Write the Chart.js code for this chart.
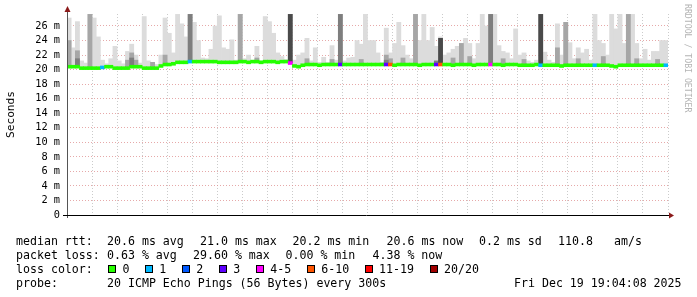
<!DOCTYPE html>
<html>
<head>
<meta charset="utf-8">
<script src="https://cdn.jsdelivr.net/npm/chart.js@4.4.1/dist/chart.umd.min.js"></script>
<style>
    html, body { margin: 0; padding: 0; background: #fff; }
    #wrap { position: relative; width: 697px; height: 297px; overflow: hidden; }
    #chart { position: absolute; left: 0; top: 0; }
    .txt { position: absolute; font-family: 'DejaVu Sans Mono', monospace; font-size: 11.6px; line-height: 14px; color: #000; white-space: pre; }
    #lossRow { position: absolute; left: 16px; top: 262px; height: 14px; display: flex; align-items: center; }
    #lossRow .box { width: 6px; height: 6px; border: 1px solid #000; margin-right: 6.4px; }
    #lossRow .lbl { margin-right: 15.6px; }
    #credit { position: absolute; left: 683px; top: 4px; writing-mode: vertical-rl; font-family: 'DejaVu Sans Mono', monospace; font-size: 8.2px; line-height: 9px; color: #b4b4b4; }
</style>
</head>
<body>
<div id="wrap">
    <canvas id="chart" width="697" height="297"></canvas>

    <div class="txt" style="left:16px;top:234px">median rtt:</div>
    <div class="txt" style="left:107px;top:234px">20.6 ms avg</div>
    <div class="txt" style="left:200px;top:234px">21.0 ms max</div>
    <div class="txt" style="left:292.5px;top:234px">20.2 ms min</div>
    <div class="txt" style="left:386.5px;top:234px">20.6 ms now</div>
    <div class="txt" style="left:479px;top:234px">0.2 ms sd</div>
    <div class="txt" style="left:558px;top:234px">110.8</div>
    <div class="txt" style="left:614px;top:234px">am/s</div>

    <div class="txt" style="left:16px;top:248px">packet loss:</div>
    <div class="txt" style="left:107px;top:248px">0.63 % avg</div>
    <div class="txt" style="left:193px;top:248px">29.60 % max</div>
    <div class="txt" style="left:285.5px;top:248px">0.00 % min</div>
    <div class="txt" style="left:372.5px;top:248px">4.38 % now</div>

    <div class="txt" style="left:16px;top:262px">loss color:</div>
    <div id="lossRow" style="left:108px"></div>

    <div class="txt" style="left:16px;top:276px">probe:</div>
    <div class="txt" style="left:107px;top:276px">20 ICMP Echo Pings (56 Bytes) every 300s</div>
    <div class="txt" style="left:514px;top:276px">Fri Dec 19 19:04:08 2025</div>

    <div id="credit">RRDTOOL / TOBI OETIKER</div>
</div>

<script>
// time window: hours counted from Thu 00:00, one bin = 10 minutes
const startHour = 19.08;
const endHour = 43.08;
const binHours = 1 / 6;

// median rtt per bin (ms)
const medianRtt = [
    20.4, 20.4, 20.4, 20.2, 20.2, 20.2, 20.2, 20.2, 20.3, 20.4,
    20.4, 20.2, 20.2, 20.2, 20.2, 20.4, 20.4, 20.4, 20.2, 20.2,
    20.2, 20.2, 20.5, 20.7, 20.7, 20.8, 21.0, 21.0, 21.0, 21.1,
    21.1, 21.1, 21.1, 21.1, 21.1, 21.1, 21.0, 21.0, 21.0, 21.0,
    21.0, 21.1, 21.1, 21.0, 21.1, 21.1, 21.0, 21.1, 21.1, 21.1,
    21.0, 21.1, 21.1, 20.9, 20.5, 20.4, 20.6, 20.7, 20.7, 20.7,
    20.6, 20.7, 20.7, 20.7, 20.7, 20.7, 20.7, 20.7, 20.7, 20.7,
    20.7, 20.7, 20.7, 20.7, 20.7, 20.7, 20.7, 20.7, 20.6, 20.7,
    20.7, 20.7, 20.7, 20.7, 20.6, 20.7, 20.7, 20.7, 20.7, 20.7,
    20.7, 20.7, 20.6, 20.7, 20.7, 20.7, 20.7, 20.6, 20.7, 20.7,
    20.7, 20.7, 20.7, 20.7, 20.6, 20.7, 20.7, 20.7, 20.6, 20.6,
    20.6, 20.6, 20.7, 20.6, 20.6, 20.6, 20.6, 20.6, 20.5, 20.6,
    20.6, 20.6, 20.6, 20.6, 20.6, 20.6, 20.6, 20.6, 20.6, 20.6,
    20.5, 20.4, 20.6, 20.6, 20.6, 20.6, 20.6, 20.6, 20.6, 20.6,
    20.6, 20.6, 20.6, 20.6
];

// highest ping per bin (ms), light smoke
const smokeTop = [
    27.1, 23.0, 26.6, 21.2, 20.9, 27.6, 27.1, 24.5, 21.3, 20.8,
    21.5, 23.2, 21.2, 20.8, 22.5, 23.5, 22.0, 20.9, 27.3, 21.2,
    21.0, 20.7, 22.0, 27.1, 25.0, 22.3, 27.6, 26.3, 24.5, 27.6,
    26.5, 24.0, 21.6, 21.5, 22.8, 26.0, 27.4, 23.0, 22.8, 24.1,
    21.3, 27.6, 21.5, 22.0, 21.3, 23.2, 21.2, 27.3, 26.6, 25.0,
    22.3, 21.8, 21.4, 27.6, 21.3, 22.0, 22.3, 24.3, 21.2, 23.0,
    21.0, 21.7, 21.0, 23.3, 21.3, 27.6, 21.2, 21.6, 21.7, 24.0,
    23.5, 27.6, 24.0, 24.0, 22.3, 21.0, 25.7, 22.3, 23.6, 26.5,
    23.3, 22.0, 21.5, 27.6, 24.0, 27.6, 24.0, 25.8, 23.2, 24.5,
    22.0, 22.3, 22.8, 23.2, 23.6, 24.3, 23.6, 21.5, 23.6, 27.6,
    26.0, 27.6, 27.6, 23.3, 22.5, 22.3, 21.5, 25.6, 22.0, 22.3,
    21.2, 21.0, 21.3, 27.6, 22.4, 21.3, 21.0, 26.3, 22.0, 26.5,
    23.7, 21.5, 23.0, 22.3, 22.8, 21.3, 27.6, 24.0, 23.6, 22.0,
    27.6, 25.6, 27.6, 23.6, 27.6, 27.6, 23.6, 21.5, 22.8, 21.3,
    22.5, 22.5, 24.0, 24.0
];

// denser smoke: [bin, top ms]
const smokeMid = [
    [0, 24.0], [2, 22.6], [5, 27.6], [14, 21.3], [15, 22.3], [16, 21.3], [20, 21.0],
    [23, 22.0], [41, 27.6], [45, 21.6], [57, 21.5], [63, 21.4], [70, 21.4], [76, 22.0],
    [77, 21.5], [80, 21.6], [83, 27.6], [92, 21.6], [94, 23.6], [96, 21.8], [104, 21.5],
    [109, 21.4], [117, 23.0], [119, 26.5], [122, 21.5], [128, 21.8], [134, 27.6],
    [136, 21.5], [141, 21.4]
];
const smokeDeep = [[2, 21.5], [15, 21.6], [29, 27.6], [65, 27.6], [76, 21.3], [88, 21.2], [101, 27.6]];
const smokeDark = [[53, 27.6], [89, 24.3], [113, 27.6]];

// lost pings out of 20: [bin, count]
const lossBins = [[8, 1], [29, 1], [53, 4], [65, 3], [76, 3], [77, 6], [88, 3], [89, 6], [101, 4], [113, 1], [126, 1], [143, 1]];

const lossLabels = ['0', '1', '2', '3', '4-5', '6-10', '11-19', '20/20'];
const lossColors = ['#26ff00', '#00b8ff', '#0059ff', '#5e00ff', '#ff00ff', '#ff5500', '#ff0000', '#a10000'];

const xTickHours = [20, 24, 28, 32, 36, 40];
const xTickLabels = ['Thu 20:00', 'Fri 00:00', 'Fri 04:00', 'Fri 08:00', 'Fri 12:00', 'Fri 16:00'];
const yTickLabels = ['0', '2 m', '4 m', '6 m', '8 m', '10 m', '12 m', '14 m', '16 m', '18 m', '20 m', '22 m', '24 m', '26 m'];

const binX = i => startHour + (i + 0.5) * binHours;

const lossClass = n => {
    if (n <= 3) return n;
    if (n <= 5) return 4;
    if (n <= 10) return 5;
    if (n <= 19) return 6;
    return 7;
};

const lossPerBin = medianRtt.map(() => 0);
lossBins.forEach(([i, n]) => lossPerBin[i] = n);

const smokeBars = list => list.map(([i, top]) => ({x: binX(i), y: [medianRtt[i], top]}));

// legend row of loss colours
const $row = document.getElementById('lossRow');
lossLabels.forEach((label, i) => {
    const box = document.createElement('span');
    box.className = 'box';
    box.style.background = lossColors[i];
    const txt = document.createElement('span');
    txt.className = 'txt lbl';
    txt.style.position = 'static';
    txt.textContent = label;
    $row.append(box, txt);
});

const monoFont = 'DejaVu Sans Mono';
const gridColor = ctx => ctx.tick && ctx.tick.value % 2 === 0 ? 'rgba(222,140,140,0.75)' : 'rgba(190,190,190,0.8)';

const axisArrows = {
    id: 'axisArrows',
    afterDatasetsDraw(chart) {
        const {ctx, chartArea: {left, right, top, bottom}} = chart;
        ctx.save();
        ctx.lineWidth = 1;
        ctx.strokeStyle = '#555';
        ctx.beginPath();
        ctx.moveTo(left + 0.5, bottom + 3);
        ctx.lineTo(left + 0.5, top - 3);
        ctx.stroke();
        ctx.strokeStyle = '#000';
        ctx.beginPath();
        ctx.moveTo(left - 4, bottom + 0.5);
        ctx.lineTo(right + 2, bottom + 0.5);
        ctx.stroke();
        ctx.fillStyle = '#8b1a1a';
        ctx.beginPath();
        ctx.moveTo(left + 0.5, top - 8);
        ctx.lineTo(left - 2.5, top - 2);
        ctx.lineTo(left + 3.5, top - 2);
        ctx.closePath();
        ctx.fill();
        ctx.beginPath();
        ctx.moveTo(right + 6, bottom + 0.5);
        ctx.lineTo(right + 1, bottom - 2.5);
        ctx.lineTo(right + 1, bottom + 3.5);
        ctx.closePath();
        ctx.fill();
        ctx.restore();
    }
};

new Chart(document.getElementById('chart'), {
    type: 'bar',
    data: {
        datasets: [
            {
                label: 'median',
                order: 0,
                data: medianRtt.map((m, i) => ({x: binX(i), y: [m - 0.2, m + 0.2]})),
                backgroundColor: lossPerBin.map(n => lossColors[lossClass(n)])
            },
            {label: 'dark', order: 1, data: smokeBars(smokeDark), backgroundColor: '#4a4a4a'},
            {label: 'deep', order: 2, data: smokeBars(smokeDeep), backgroundColor: '#7e7e7e'},
            {label: 'mid', order: 3, data: smokeBars(smokeMid), backgroundColor: '#a6a6a6'},
            {
                label: 'smoke',
                order: 4,
                data: smokeTop.map((top, i) => ({x: binX(i), y: [medianRtt[i], top]})),
                backgroundColor: '#dcdcdc'
            }
        ]
    },
    options: {
        responsive: false,
        animation: false,
        events: [],
        layout: {padding: {left: 0, right: 29, top: 14, bottom: 0}},
        plugins: {legend: {display: false}, tooltip: {enabled: false}},
        datasets: {
            bar: {grouped: false, barPercentage: 1, categoryPercentage: 1, borderWidth: 0}
        },
        scales: {
            x: {
                type: 'linear',
                offset: false,
                min: startHour,
                max: endHour,
                afterFit: scale => { scale.height = 82; },
                ticks: {
                    stepSize: 1,
                    autoSkip: false,
                    maxRotation: 0,
                    includeBounds: false,
                    padding: 3,
                    color: '#000',
                    font: {family: monoFont, size: 10.3},
                    callback: v => {
                        const k = xTickHours.indexOf(v);
                        return k >= 0 ? xTickLabels[k] : '';
                    }
                },
                grid: {offset: false, drawTicks: false, lineWidth: 1, color: gridColor},
                border: {display: false, dash: [1, 2]}
            },
            y: {
                min: 0,
                max: 27.65,
                afterFit: scale => { scale.width = 67; },
                ticks: {
                    stepSize: 1,
                    includeBounds: false,
                    padding: 7,
                    color: '#000',
                    font: {family: monoFont, size: 10.3},
                    callback: v => v % 2 === 0 ? yTickLabels[v / 2] : ''
                },
                grid: {drawTicks: false, lineWidth: 1, color: gridColor},
                border: {display: false, dash: [1, 2]},
                title: {
                    display: true,
                    text: 'Seconds',
                    color: '#000',
                    font: {family: monoFont, size: 11.2},
                    padding: {top: 4, bottom: 4}
                }
            }
        }
    },
    plugins: [axisArrows]
});
</script>
</body>
</html>
